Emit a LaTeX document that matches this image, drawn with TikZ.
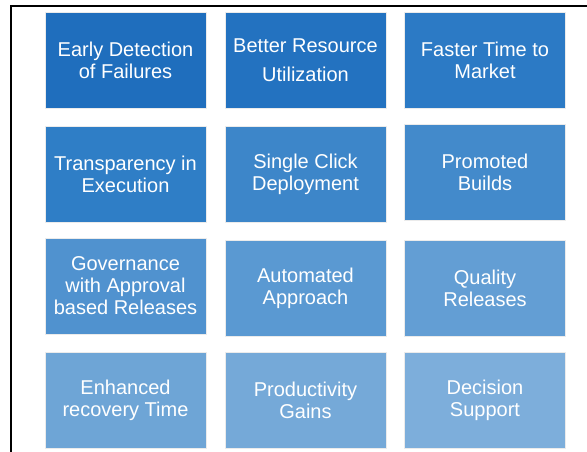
\documentclass[tikz,border=0pt]{standalone}
\usepackage{fontspec}
\setmainfont{Liberation Sans}
\usetikzlibrary{shadows}

\definecolor{tileA}{RGB}{31,110,189}
\definecolor{tileB}{RGB}{35,114,192}
\definecolor{tileC}{RGB}{44,122,197}
\definecolor{tileD}{RGB}{47,126,198}
\definecolor{tileE}{RGB}{61,134,201}
\definecolor{tileF}{RGB}{67,138,203}
\definecolor{tileG}{RGB}{80,146,207}
\definecolor{tileH}{RGB}{90,153,210}
\definecolor{tileI}{RGB}{99,158,212}
\definecolor{tileJ}{RGB}{110,165,214}
\definecolor{tileK}{RGB}{117,169,216}
\definecolor{tileL}{RGB}{125,174,219}

\begin{document}
\begin{tikzpicture}[x=1pt, y=-1pt,
  tile/.style={draw=black!8, line width=0.6pt, minimum width=161pt, minimum height=96pt,
    inner sep=0pt, align=center, text=white, font=\fontsize{20}{22}\selectfont,
    drop shadow={shadow xshift=0.8pt, shadow yshift=-1.4pt, opacity=0.35, fill=black!60}}]
\useasboundingbox (0,0) rectangle (587,452);

\draw[line width=2pt] (11,452) -- (11,6) -- (587,6);

\node[tile, fill=tileA] (early) at (125.5,60) {Early Detection\\of Failures};
\node[tile, fill=tileB, font=\fontsize{20}{29}\selectfont] (better) at (305.5,60) {Better Resource\\Utilization};
\node[tile, fill=tileC] (faster) at (485,60) {Faster Time to\\Market};

\node[tile, fill=tileD] (transp) at (125.5,174) {Transparency in\\Execution};
\node[tile, fill=tileE] (single) at (305.5,174) {Single Click\\Deployment};
\node[tile, fill=tileF] (promoted) at (485,172) {Promoted\\Builds};

\node[tile, fill=tileG] (govern) at (125.5,286) {Governance\\with Approval\\based Releases};
\node[tile, fill=tileH] (auto) at (305.5,288) {Automated\\Approach};
\node[tile, fill=tileI] (quality) at (485,288) {Quality\\Releases};

\node[tile, fill=tileJ] (enhanced) at (125.5,400) {Enhanced\\recovery Time};
\node[tile, fill=tileK] (product) at (305.5,400) {Productivity\\Gains};
\node[tile, fill=tileL] (decision) at (485,400) {Decision\\Support};
\end{tikzpicture}
\end{document}
